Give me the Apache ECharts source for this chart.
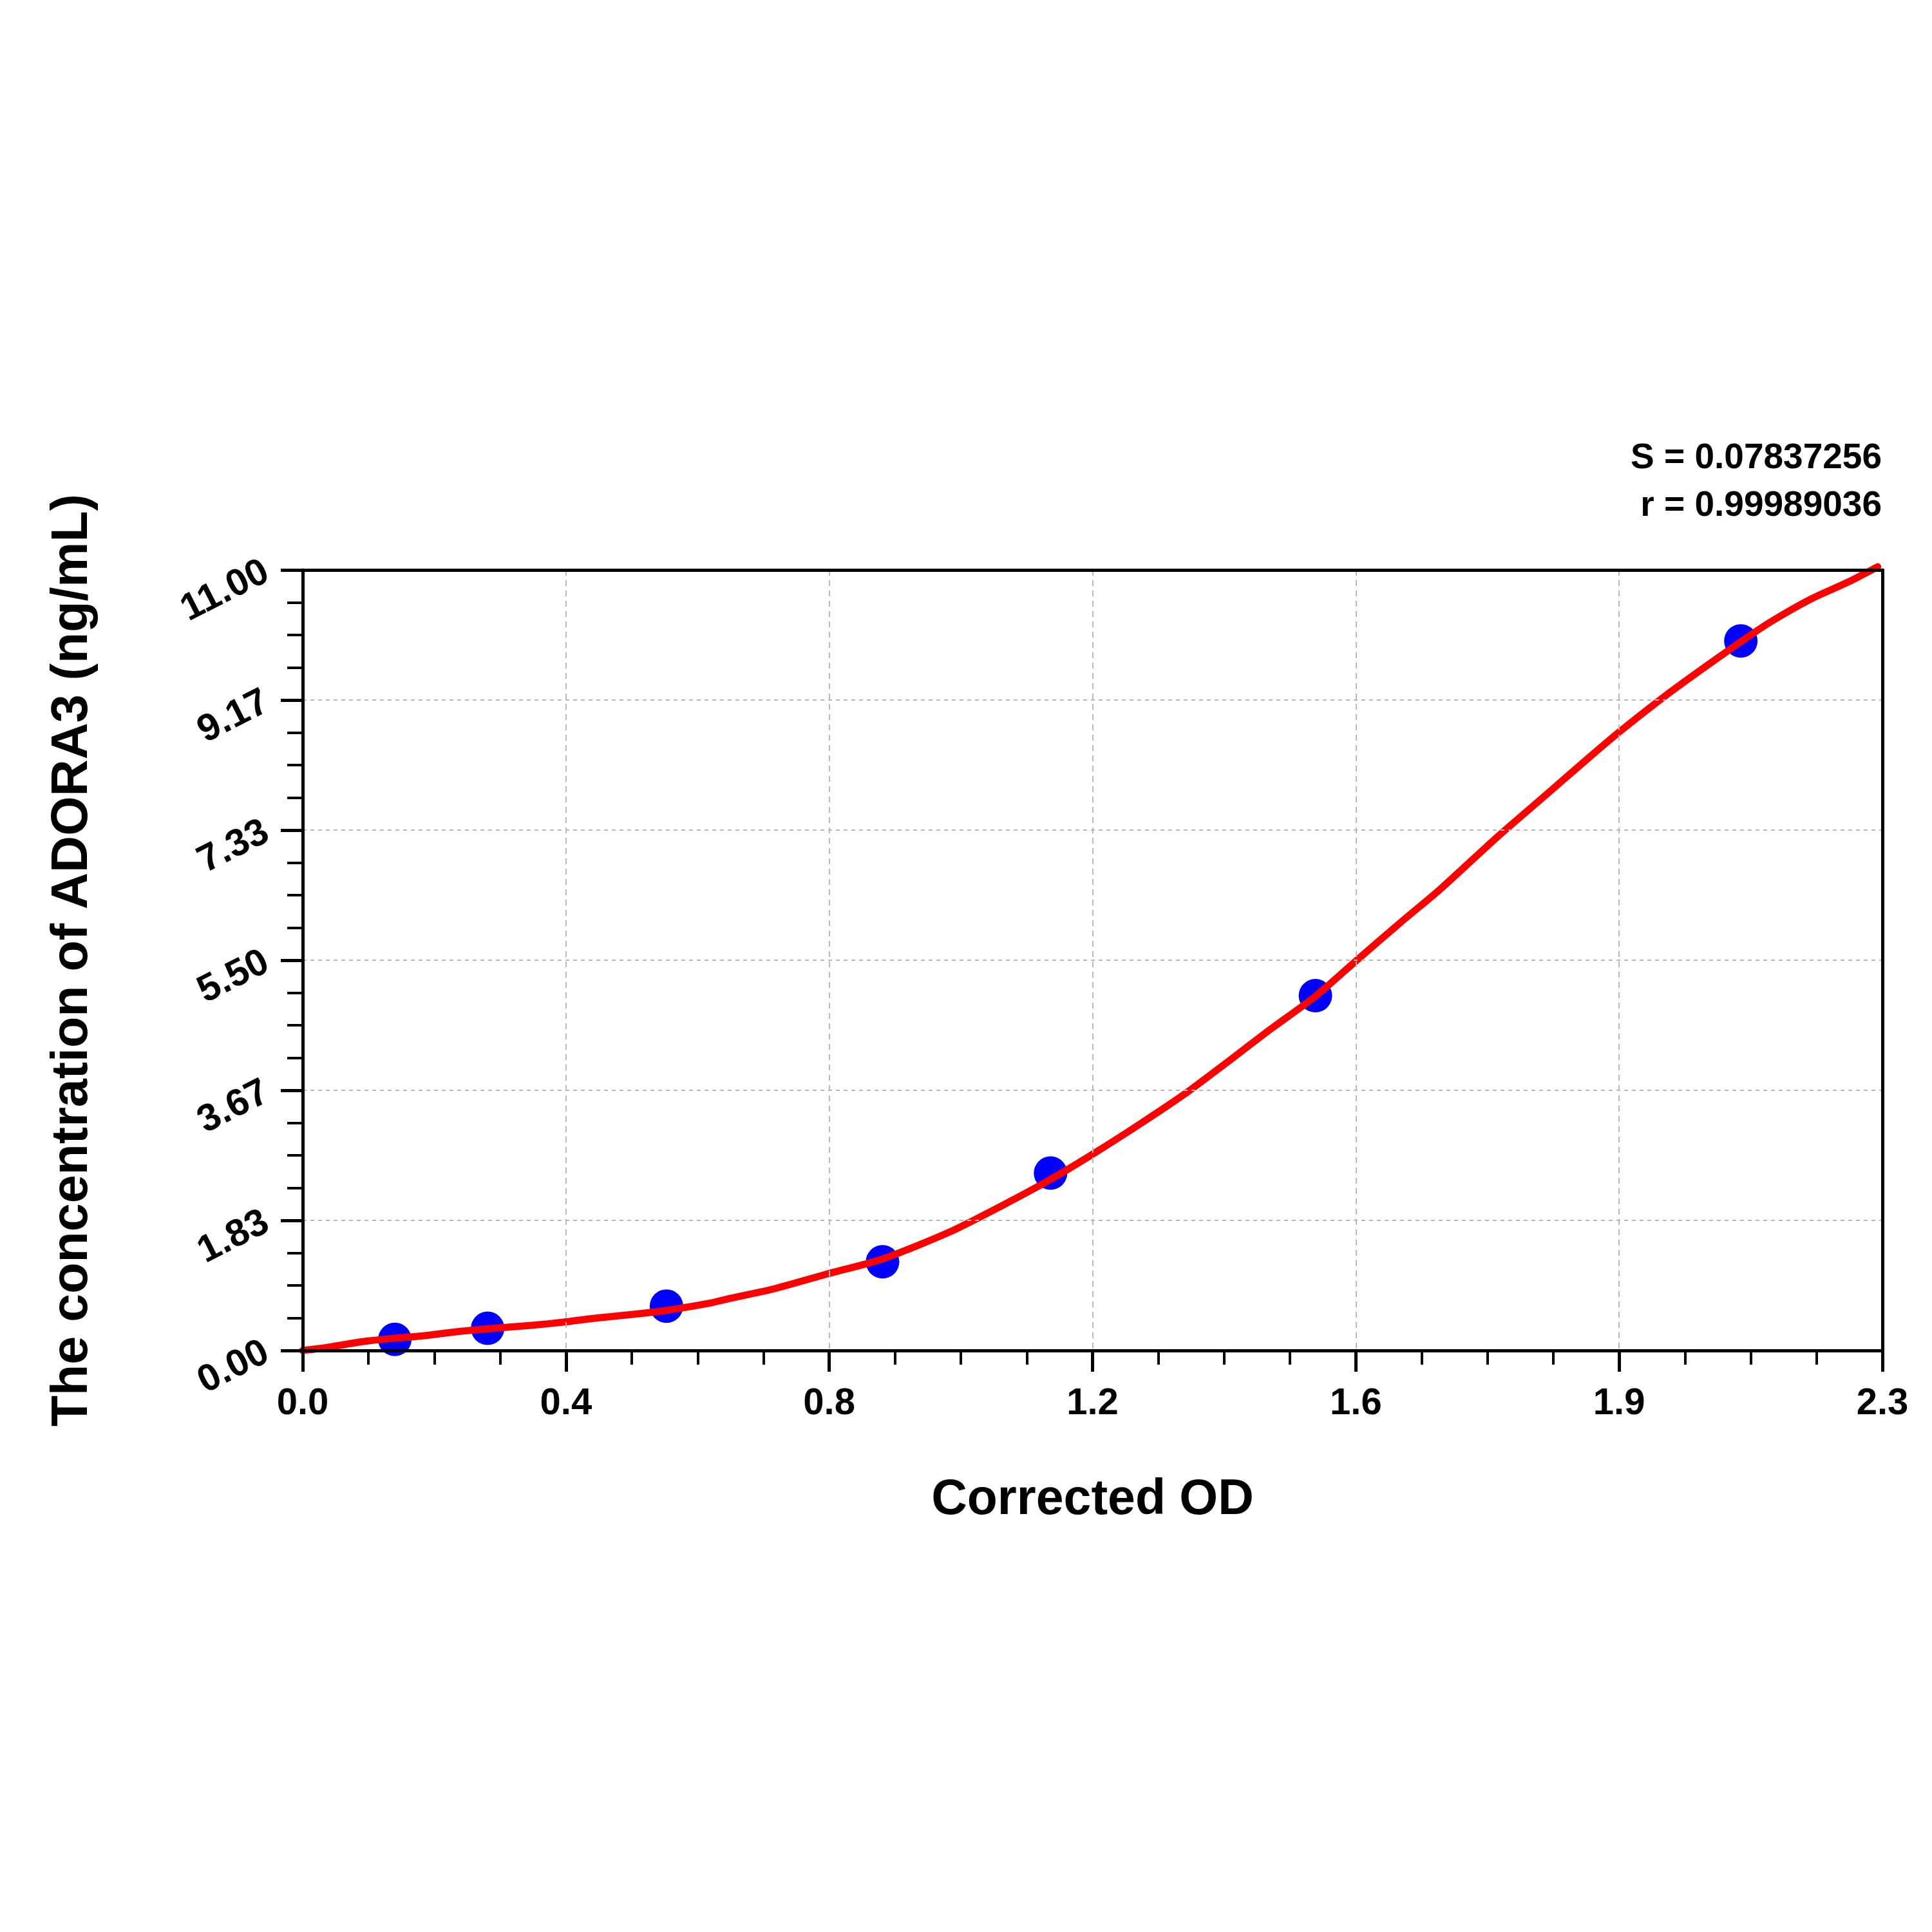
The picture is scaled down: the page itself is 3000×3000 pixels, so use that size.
<!DOCTYPE html>
<html>
<head>
<meta charset="utf-8">
<script src="https://cdn.jsdelivr.net/npm/echarts@6/dist/echarts.min.js"></script>
<style>
html,body{margin:0;padding:0;background:#ffffff;}
#chart{width:3000px;height:3000px;}
</style>
</head>
<body>
<div id="chart"></div>
<script>
// ---- data ----
const xAxisMax = 2.332;           // right end of the OD axis (label "2.3")
const yAxisMax = 11;              // top of the concentration axis
const xTickCount = 6;
const yTickCount = 6;

// standards (blue dots)
const standardOD   = [0.136, 0.273, 0.537, 0.856, 1.104, 1.495, 2.123];
const standardConc = [0.156, 0.313, 0.625, 1.25, 2.5, 5, 10];

// fitted curve (red line)
const curveOD = [0, 0.032, 0.066, 0.098, 0.136, 0.180, 0.235, 0.289, 0.338, 0.385,
  0.431, 0.496, 0.536, 0.599, 0.627, 0.693, 0.775, 0.856, 0.955, 1.036,
  1.103, 1.165, 1.238, 1.303, 1.369, 1.429, 1.494, 1.554, 1.620, 1.680,
  1.762, 1.838, 1.897, 1.943, 2.012, 2.071, 2.121, 2.164, 2.227, 2.283, 2.325];
const curveConc = [0, 0.036, 0.091, 0.136, 0.172, 0.209, 0.272, 0.318, 0.354, 0.399,
  0.454, 0.517, 0.563, 0.663, 0.726, 0.862, 1.080, 1.289, 1.670, 2.060,
  2.405, 2.759, 3.204, 3.621, 4.093, 4.529, 4.983, 5.482, 6.026, 6.507,
  7.224, 7.851, 8.341, 8.713, 9.230, 9.639, 9.974, 10.250, 10.592, 10.837, 11.045];

const statS = 'S = 0.07837256';
const statR = 'r = 0.99989036';
const xTitle = 'Corrected OD';
const yTitle = 'The concentration of ADORA3 (ng/mL)';

// ---- chart ----
const FONT = '"Liberation Sans", Arial, Helvetica, sans-serif';
const chart = echarts.init(document.getElementById('chart'), null, {renderer: 'canvas'});

const pointData = standardOD.map((x, i) => [x, standardConc[i]]);
const curveData = curveOD.map((x, i) => [x, curveConc[i]]);

const frameAxisX = {
  type: 'value', position: 'top', min: 0, max: xAxisMax, interval: xAxisMax / xTickCount, z: 5,
  axisLine: {show: true, onZero: false, lineStyle: {color: '#000', width: 5}},
  axisTick: {show: false}, axisLabel: {show: false}, splitLine: {show: false}
};
const frameAxisY = {
  type: 'value', position: 'right', min: 0, max: yAxisMax, interval: yAxisMax / yTickCount, z: 5,
  axisLine: {show: true, onZero: false, lineStyle: {color: '#000', width: 5}},
  axisTick: {show: false}, axisLabel: {show: false}, splitLine: {show: false}
};

const option = {
  backgroundColor: '#ffffff',
  animation: false,
  grid: {
    left: 470, right: 77, top: 885, bottom: 903,
    show: false, containLabel: false
  },
  xAxis: [{
    type: 'value', position: 'bottom', z: 5,
    min: 0, max: xAxisMax, interval: xAxisMax / xTickCount,
    name: xTitle, nameLocation: 'middle', nameGap: 194,
    nameTextStyle: {fontFamily: FONT, fontWeight: 'bold', fontSize: 77, color: '#000'},
    axisLine: {show: true, onZero: false, lineStyle: {color: '#000', width: 5}},
    axisTick: {show: true, inside: false, length: 33, lineStyle: {color: '#000', width: 5}},
    minorTick: {show: true, splitNumber: 4, length: 22, lineStyle: {color: '#000', width: 4}},
    axisLabel: {
      show: true, margin: 54, fontFamily: FONT, fontWeight: 'bold', fontSize: 58, color: '#000',
      formatter: v => v.toFixed(1), showMaxLabel: true, showMinLabel: true
    },
    splitLine: {show: true, showMinLine: false, showMaxLine: false,
      lineStyle: {color: '#b8b8b8', width: 2, type: [9, 7]}},
    minorSplitLine: {show: false}
  }, frameAxisX],
  yAxis: [{
    type: 'value', position: 'left', z: 5,
    min: 0, max: yAxisMax, interval: yAxisMax / yTickCount,
    name: yTitle, nameLocation: 'middle', nameGap: 317, nameRotate: 90,
    nameTextStyle: {fontFamily: FONT, fontWeight: 'bold', fontSize: 79, color: '#000'},
    axisLine: {show: true, onZero: false, lineStyle: {color: '#000', width: 5}},
    axisTick: {show: true, inside: false, length: 34, lineStyle: {color: '#000', width: 5}},
    minorTick: {show: true, splitNumber: 4, length: 24, lineStyle: {color: '#000', width: 4}},
    axisLabel: {
      show: true, margin: 56, rotate: 27, fontFamily: FONT, fontWeight: 'bold', fontSize: 59, color: '#000',
      formatter: v => v.toFixed(2), showMaxLabel: true, showMinLabel: true
    },
    splitLine: {show: true, showMinLine: false, showMaxLine: false,
      lineStyle: {color: '#b8b8b8', width: 2, type: [6, 6]}},
    minorSplitLine: {show: false}
  }, frameAxisY],
  graphic: [
    {type: 'text', right: 78, top: 684, z: 10,
      style: {text: statS, font: 'bold 55px ' + FONT, fill: '#000', textAlign: 'right'}},
    {type: 'text', right: 78, top: 758, z: 10,
      style: {text: statR, font: 'bold 55px ' + FONT, fill: '#000', textAlign: 'right'}}
  ],
  series: [
    {
      type: 'scatter', name: 'standards', data: pointData, xAxisIndex: 0, yAxisIndex: 0,
      symbol: 'circle', symbolSize: 52, z: 2,
      itemStyle: {color: '#0000ff', opacity: 1}
    },
    {
      type: 'line', name: 'fit', data: curveData, xAxisIndex: 0, yAxisIndex: 0,
      showSymbol: false, symbol: 'none', smooth: 0.25, clip: false, z: 3,
      lineStyle: {color: '#ff0000', width: 11, cap: 'round', join: 'round'}
    }
  ]
};
chart.setOption(option);
</script>
</body>
</html>
